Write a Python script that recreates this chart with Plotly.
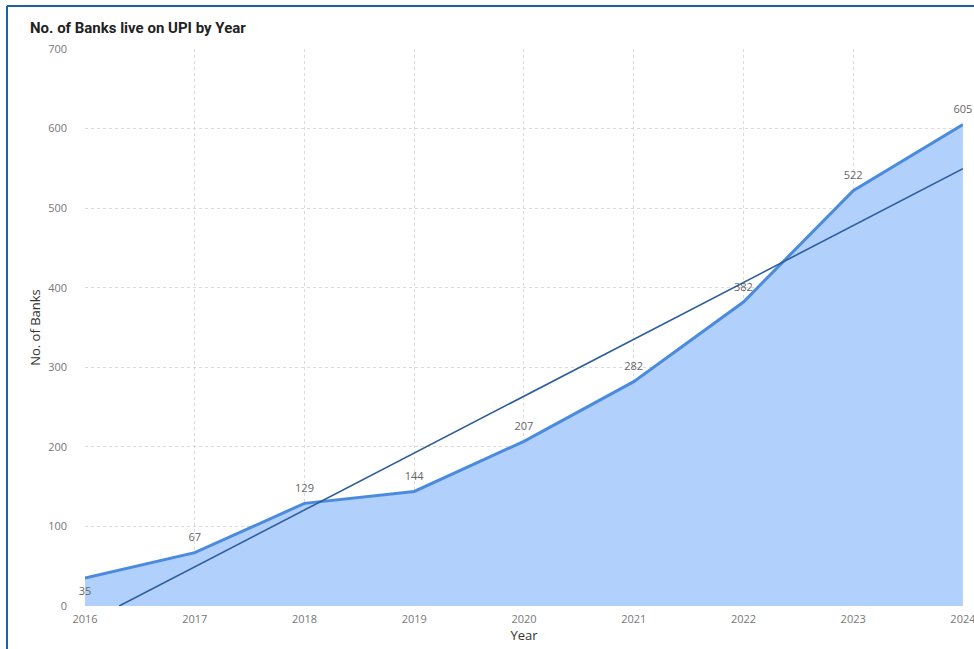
import numpy as np
import plotly.graph_objects as go

years = [2016, 2017, 2018, 2019, 2020, 2021, 2022, 2023, 2024]
banks = [35, 67, 129, 144, 207, 282, 382, 522, 605]
y_ticks = [0, 100, 200, 300, 400, 500, 600, 700]

# linear trend line (least squares) from the data
coef = np.polyfit(years, banks, 1)
trend = [coef[0] * x + coef[1] for x in years]
# start the trend where it crosses zero
x0 = -coef[1] / coef[0]
trend_x = [x0] + years[1:]
trend_y = [0.0] + trend[1:]

label_pos = ["bottom center"] + ["top center"] * (len(years) - 1)

fig = go.Figure()
fig.add_trace(go.Scatter(
    x=years, y=banks, mode="lines", fill="tozeroy",
    fillcolor="#B1D0FB", line=dict(color="#4A8BE0", width=3),
    showlegend=False, cliponaxis=False,
))
fig.add_trace(go.Scatter(
    x=trend_x, y=trend_y, mode="lines",
    line=dict(color="#2E5E9C", width=1.6), showlegend=False,
))
fig.add_trace(go.Scatter(
    x=years, y=banks, mode="markers+text",
    marker=dict(size=12, opacity=0),
    text=[str(v) for v in banks], textposition=label_pos,
    textfont=dict(family="Open Sans", size=11, color="#666666"),
    cliponaxis=False, showlegend=False, hoverinfo="skip",
))

frame = "#1F5FA6"
fig.update_layout(
    width=974, height=649,
    margin=dict(l=85, r=11, t=49, b=43),
    paper_bgcolor="white", plot_bgcolor="white",
    title=dict(text="<b>No. of Banks live on UPI by Year</b>", x=30/974, xanchor="left",
               y=1 - 28/649, yanchor="middle",
               font=dict(family="Roboto", size=15, color="#222222")),
    xaxis=dict(range=[2016, 2024.0005], tickvals=years, ticktext=[str(y) for y in years],
               showgrid=True, gridcolor="#DADADA", griddash="dot", gridwidth=1,
               zeroline=False, showline=False, ticklabeloverflow="allow",
               automargin=False,
               tickfont=dict(family="Open Sans", size=11, color="#777777"),
               ticklabelstandoff=5,
               title=dict(text="Year", font=dict(family="Open Sans", size=13, color="#333333"),
                          standoff=4),
               ticks="", ticklen=0),
    yaxis=dict(range=[0, 700], tickvals=y_ticks,
               showgrid=True, gridcolor="#DADADA", griddash="dot", gridwidth=1,
               zeroline=False, showline=False, automargin=False,
               tickfont=dict(family="Open Sans", size=11, color="#777777"),
               ticklabelstandoff=17,
               title=dict(text="No. of Banks", font=dict(family="Open Sans", size=13, color="#333333"),
                          standoff=4),
               ticks="", ticklen=0),
    shapes=[
        dict(type="line", xref="paper", yref="paper",
             x0=(7 - 85) / 878, x1=(974 - 85) / 878,
             y0=(606 - 6) / 557, y1=(606 - 6) / 557,
             line=dict(color=frame, width=2)),
        dict(type="line", xref="paper", yref="paper",
             x0=(7 - 85) / 878, x1=(7 - 85) / 878,
             y0=(606 - 6) / 557, y1=(606 - 649) / 557,
             line=dict(color=frame, width=2)),
    ],
)

fig.write_html("out.html")
